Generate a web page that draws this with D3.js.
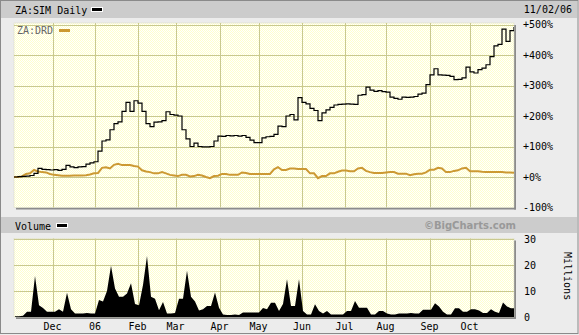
<!DOCTYPE html>
<html><head><meta charset="utf-8">
<script src="https://cdn.jsdelivr.net/npm/d3@7"></script>
<style>
html,body{margin:0;padding:0;background:#ececec;}
svg{display:block;}
text{font-family:"DejaVu Sans Mono",monospace;font-size:10px;}
</style></head>
<body>
<script>
// ---- data (one value every 2 trading days, Nov 2 2005 .. Nov 2 2006) ----
const simPct = [0,1,2,3,5,12,28,25,24,23,
 24,22,25,38,33,31,33,34,42,46,
 50,85,118,122,155,175,181,215,245,215,
 250,242,215,175,165,180,181,185,214,205,
 203,200,155,125,100,111,100,99,99,100,
 118,134,133,136,135,136,134,136,130,121,
 113,113,128,132,133,140,167,165,200,205,
 187,260,245,240,225,218,185,210,220,228,
 236,238,239,240,239,238,268,270,295,285,
 281,283,280,278,262,258,255,262,261,262,
 264,272,275,303,335,355,335,334,333,330,
 319,320,325,360,345,341,352,357,368,395,
 430,435,485,445,480,492];
const drdPct = [0,0,2,10,12,23,18,16,15,10,
 7,6,4,4,4,5,5,5,6,8,
 12,13,30,32,28,40,43,39,39,39,
 36,34,22,18,16,12,12,16,12,7,
 5,3,7,7,2,3,7,5,0,-4,
 3,4,10,10,7,7,7,15,13,10,
 10,10,10,10,10,25,32,23,23,28,
 28,26,26,26,12,12,-4,3,3,12,
 12,17,21,21,19,19,28,30,20,16,
 13,13,13,15,16,16,11,11,11,6,
 9,11,11,15,24,24,30,28,16,16,
 20,22,28,30,19,19,19,17,16,16,
 16,16,16,15,15,14];
const volume = [0.3,0.3,0.5,2,2,15.8,4.5,3.5,2,2,
 2,3,2,9.3,3,1.3,1.3,1.3,1.5,1.3,
 1.3,6.5,6,10,19.7,11,7.8,7.8,9,13,
 5,4.5,12.3,23.5,7.8,7,2.6,5.8,1.3,1.3,
 1.5,7,7,17.8,7.8,6,2.5,3,4.2,4.2,
 9.4,3.6,1,0.8,0.8,1,0.8,1.7,1.7,1.7,
 1.7,1.7,3.5,3,5.5,5.5,2.3,5,14.5,4.2,
 4.2,14.5,2.3,1,1,4.9,2.3,1.3,2.3,1,
 1,1,1,2.3,2.3,6.2,3.6,3.6,3.6,1,
 1,2.3,2.3,1.3,1,1,1.3,1.3,1.3,1.5,
 1.3,1.3,2.8,2.8,2.8,5.3,4,2,1,1,
 3.4,3.4,2,2,3,3,2.5,1.5,1.5,3,
 2,1.5,5.6,4,3.4,3.4];
const monthLabels = ["Dec","06","Feb","Mar","Apr","May","Jun","Jul","Aug","Sep","Oct"];
const monthDay = [19.3,40.5,61.8,80.8,102.8,122.3,144,165.3,185.8,207.8,227.8]; // trading-day index of month start
const priceTicks = [-100,0,100,200,300,400,500];
const volTicks = [0,10,20,30];
const mainSymbol = "ZA:SIM Daily", compSymbol = "ZA:DRD", dateLabel = "11/02/06";

// ---- layout ----
const W = 579, H = 335;
const L = 14, R = 514;
const pTop = 23, pBot = 207.5;
const vTop = 238.5, vBot = 317;

const svg = d3.select("body").append("svg").attr("width", W).attr("height", H);
const defs = svg.append("defs");
const pat = defs.append("pattern").attr("id","dither").attr("width",2).attr("height",2).attr("patternUnits","userSpaceOnUse");
pat.append("rect").attr("width",2).attr("height",2).attr("fill","#ffffff");
pat.append("rect").attr("width",1).attr("height",1).attr("fill","#ffffcc");
pat.append("rect").attr("x",1).attr("y",1).attr("width",1).attr("height",1).attr("fill","#ffffcc");
defs.append("clipPath").attr("id","cp").append("rect").attr("x",L).attr("y",pTop).attr("width",R-L).attr("height",pBot-pTop);
defs.append("clipPath").attr("id","cv").append("rect").attr("x",L).attr("y",vTop).attr("width",R-L).attr("height",vBot-vTop);

// background & frame
svg.append("rect").attr("x",0).attr("y",0).attr("width",W).attr("height",H).attr("fill","#ececec");
svg.append("rect").attr("x",0.5).attr("y",0.5).attr("width",W-1.5).attr("height",H-2).attr("fill","none").attr("stroke","#8a8a8a");
svg.append("rect").attr("x",1).attr("y",1).attr("width",W-3).attr("height",17).attr("fill","#cccccc");
svg.append("rect").attr("x",1).attr("y",217).attr("width",W-3).attr("height",16).attr("fill","#cccccc");

const x = d3.scaleLinear().domain([0,250]).range([L,R]);
const y = d3.scaleLinear().domain([-100,500]).range([pBot,24.5]);
const yv = d3.scaleLinear().domain([0,30]).range([vBot,239]);

function panel(t, b){
  svg.append("rect").attr("x",R).attr("y",t+2).attr("width",2).attr("height",b-t).attr("fill","#8c8c8c");
  svg.append("rect").attr("x",L+2).attr("y",b).attr("width",R-L).attr("height",2).attr("fill","#8c8c8c");
  svg.append("rect").attr("x",L).attr("y",t).attr("width",R-L).attr("height",b-t).attr("fill","url(#dither)").attr("stroke","#d8d8c0").attr("stroke-width",0.5);
}
panel(pTop,pBot);
panel(vTop,vBot);

const gridC = "#c9c98f";
// vertical month grids
[[pTop,pBot],[vTop,vBot]].forEach(([t,b])=>{
  svg.append("g").selectAll("line").data(monthDay).join("line")
    .attr("x1",d=>Math.round(x(d))+0.5).attr("x2",d=>Math.round(x(d))+0.5)
    .attr("y1",t).attr("y2",b).attr("stroke",gridC).attr("stroke-width",1);
});
svg.append("g").selectAll("line").data(priceTicks.filter(d=>d>-100)).join("line")
  .attr("x1",L).attr("x2",R).attr("y1",d=>Math.round(y(d))+0.5).attr("y2",d=>Math.round(y(d))+0.5)
  .attr("stroke",gridC);
svg.append("g").selectAll("line").data(volTicks.filter(d=>d>0)).join("line")
  .attr("x1",L).attr("x2",R).attr("y1",d=>Math.round(yv(d))+0.5).attr("y2",d=>Math.round(yv(d))+0.5)
  .attr("stroke",gridC);

// right axis labels
svg.append("g").selectAll("text").data(priceTicks).join("text")
  .attr("x",523).attr("y",d=>y(d)+3.5).attr("fill","#000")
  .text(d=>(d>=0?"+":"")+d+"%");
svg.append("g").selectAll("text").data(volTicks).join("text")
  .attr("x",524).attr("y",d=>yv(d)+3.5).attr("fill","#000").text(d=>d);
svg.append("text").attr("transform","translate(564,252) rotate(90)").attr("fill","#000").text("Millions");

// month labels
svg.append("g").selectAll("text").data(monthDay).join("text")
  .attr("x",d=>x(d)).attr("y",329.5).attr("text-anchor","middle").attr("fill","#000")
  .text((d,i)=>monthLabels[i]);

// DRD line
const pg = svg.append("g").attr("clip-path","url(#cp)");
pg.append("path").datum(drdPct)
  .attr("d", d3.line().x((d,i)=>x(i*2)).y(d=>y(d)))
  .attr("fill","none").attr("stroke","#cc9933").attr("stroke-width",2);
// SIM line
pg.append("path").datum(simPct)
  .attr("d", d3.line().curve(d3.curveStepAfter).x((d,i)=>x(i*2)).y(d=>y(d)))
  .attr("fill","none").attr("stroke","#000").attr("stroke-width",1.2);

// volume area
svg.append("g").attr("clip-path","url(#cv)").append("path").datum(volume)
  .attr("d", d3.area().x((d,i)=>x(i*2)+1).y0(vBot).y1(d=>yv(d)))
  .attr("fill","#000");

// headers / legends
svg.append("text").attr("x",15).attr("y",13.5).attr("fill","#000").text(mainSymbol);
svg.append("rect").attr("x",91.5).attr("y",7.5).attr("width",11).attr("height",4).attr("fill","#000").attr("stroke","#fff");
svg.append("text").attr("x",572).attr("y",13).attr("text-anchor","end").attr("fill","#000").text(dateLabel);
svg.append("text").attr("x",17).attr("y",33.5).attr("fill","#666").text(compSymbol);
svg.append("rect").attr("x",59).attr("y",29).attr("width",11).attr("height",3).attr("fill","#cc9933");
svg.append("text").attr("x",15).attr("y",229.5).attr("fill","#000").text("Volume");
svg.append("rect").attr("x",56.5).attr("y",223.5).attr("width",11).attr("height",4).attr("fill","#000").attr("stroke","#fff");
svg.append("text").attr("x",516).attr("y",229).attr("text-anchor","end").attr("fill","#999")
  .style("font-family","'DejaVu Sans',sans-serif").style("font-weight","bold").style("font-size","10px").text("©BigCharts.com");
</script>
</body></html>
